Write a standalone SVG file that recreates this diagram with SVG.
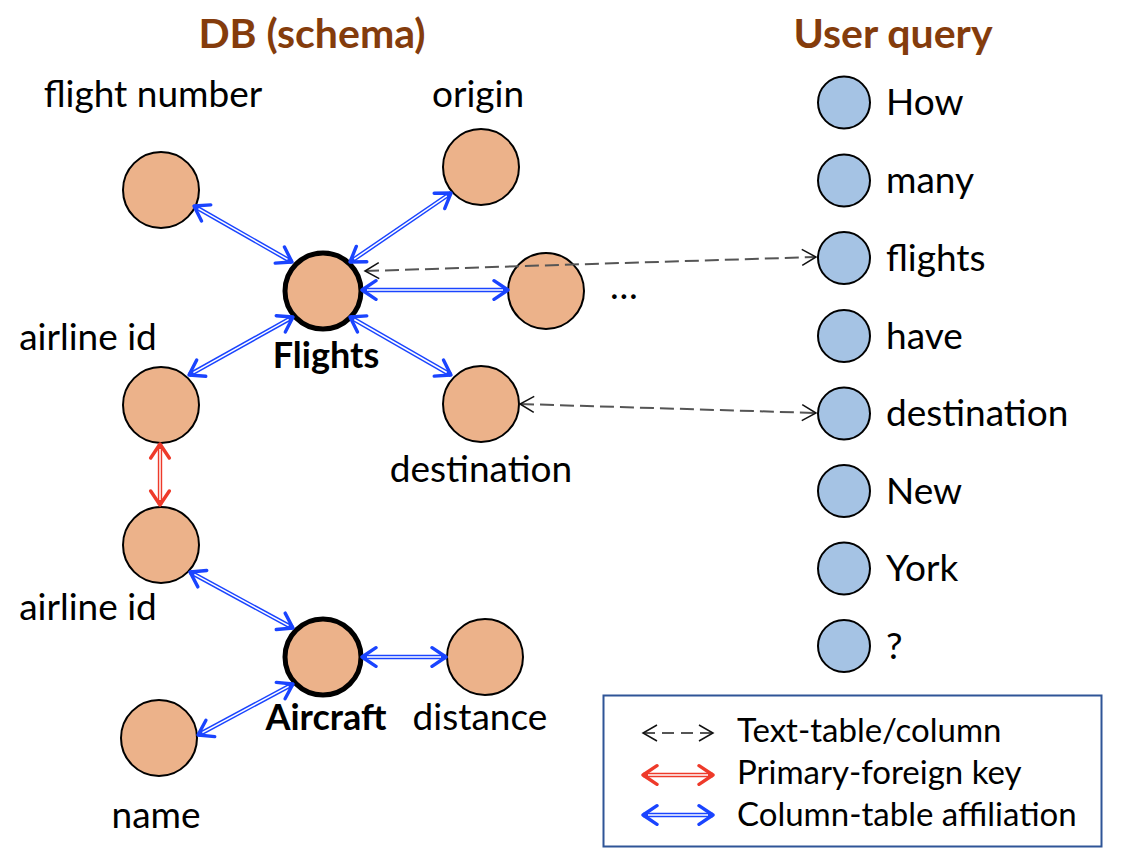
<svg xmlns="http://www.w3.org/2000/svg" width="1122" height="866" viewBox="0 0 1122 866">
<defs>
<style>
text{font-family:Lato,"Liberation Sans",sans-serif;fill:#000}
.t{font-size:37px}
.b{font-size:36px;font-weight:bold}
.title{font-size:41px;font-weight:bold;fill:#843C0C;text-anchor:middle}
.lg{font-size:33px}
.m{text-anchor:middle}
.col{fill:#ECB28A;stroke:#000;stroke-width:2}
.tab{fill:#ECB28A;stroke:#000;stroke-width:5}
.word{fill:#A5C3E4;stroke:#000;stroke-width:2}
.bo{stroke:#1A44FF;stroke-width:4.4;fill:none}
.ro{stroke:#EE3A2A;stroke-width:4.4;fill:none}
.in{stroke:#fff;stroke-width:1.5;fill:none}
.bh{stroke:none;fill:none;marker-start:url(#hb);marker-end:url(#hb)}
.rh{stroke:none;fill:none;marker-start:url(#hr);marker-end:url(#hr)}
.dash{stroke:#555;stroke-width:2;stroke-dasharray:14 6;fill:none;marker-start:url(#hd);marker-end:url(#hd)}
</style>
<marker id="hb" viewBox="-18 -12 20 24" markerWidth="20" markerHeight="24" refX="0" refY="0" markerUnits="userSpaceOnUse" orient="auto-start-reverse">
<path d="M-14,-9.3 L0,0 L-14,9.3" fill="none" stroke="#1A44FF" stroke-width="3.4" stroke-linecap="round" stroke-linejoin="round"/>
</marker>
<marker id="hr" viewBox="-18 -12 20 24" markerWidth="20" markerHeight="24" refX="0" refY="0" markerUnits="userSpaceOnUse" orient="auto-start-reverse">
<path d="M-14,-9.3 L0,0 L-14,9.3" fill="none" stroke="#EE3A2A" stroke-width="3.4" stroke-linecap="round" stroke-linejoin="round"/>
</marker>
<marker id="hd" viewBox="-16 -11 18 22" markerWidth="18" markerHeight="22" refX="0" refY="0" markerUnits="userSpaceOnUse" orient="auto-start-reverse">
<path d="M-14,-8 L0,0 L-14,8" fill="none" stroke="#111" stroke-width="1.5"/>
</marker>
</defs>
<rect width="1122" height="866" fill="#fff"/>

<text class="title" x="312" y="48">DB (schema)</text>
<text class="title" x="893" y="48">User query</text>

<g id="node-flight-number"><circle class="col" cx="161" cy="190" r="38"/><text class="t m" x="153" y="107">flight number</text></g>
<g id="node-origin"><circle class="col" cx="481" cy="167" r="38"/><text class="t m" x="478" y="107">origin</text></g>
<g id="node-flights"><circle class="tab" cx="323" cy="291" r="38"/><text class="b m" x="326" y="368">Flights</text></g>
<g id="node-more"><circle class="col" cx="546" cy="291" r="38"/><text class="t" x="610" y="299">…</text></g>
<g id="node-airline-id-1"><circle class="col" cx="161" cy="405" r="38"/><text class="t m" x="88" y="350">airline id</text></g>
<g id="node-destination"><circle class="col" cx="481" cy="404" r="38"/><text class="t m" x="481" y="482">destination</text></g>
<g id="node-airline-id-2"><circle class="col" cx="161" cy="545" r="38"/><text class="t m" x="88" y="620">airline id</text></g>
<g id="node-aircraft"><circle class="tab" cx="323" cy="657" r="38"/><text class="b m" x="326" y="730">Aircraft</text></g>
<g id="node-distance"><circle class="col" cx="485" cy="657" r="38"/><text class="t m" x="480" y="730">distance</text></g>
<g id="node-name"><circle class="col" cx="159" cy="738" r="38"/><text class="t m" x="156" y="828">name</text></g>

<g id="word-how"><circle class="word" cx="844" cy="102.5" r="26"/><text class="t" x="886" y="115">How</text></g>
<g id="word-many"><circle class="word" cx="844" cy="180.5" r="26"/><text class="t" x="886" y="193">many</text></g>
<g id="word-flights"><circle class="word" cx="844" cy="258" r="26"/><text class="t" x="886" y="271">flights</text></g>
<g id="word-have"><circle class="word" cx="844" cy="336" r="26"/><text class="t" x="886" y="349">have</text></g>
<g id="word-destination"><circle class="word" cx="844" cy="413.5" r="26"/><text class="t" x="886" y="426">destination</text></g>
<g id="word-new"><circle class="word" cx="844" cy="491" r="26"/><text class="t" x="886" y="504">New</text></g>
<g id="word-york"><circle class="word" cx="844" cy="568.5" r="26"/><text class="t" x="886" y="581">York</text></g>
<g id="word-q"><circle class="word" cx="844" cy="646" r="26"/><text class="t" x="886" y="659">?</text></g>

<g id="connectors">
<!-- flight number - Flights -->
<path class="bo" d="M194,206 L292,262"/><path class="in" d="M198.5,208.6 L287.5,259.4"/><path class="bh" d="M194,206 L292,262"/>
<!-- origin - Flights -->
<path class="bo" d="M451,193 L350,262"/><path class="in" d="M446.8,195.9 L354.2,259.1"/><path class="bh" d="M451,193 L350,262"/>
<!-- Flights - ... -->
<path class="bo" d="M362,290 L508,290"/><path class="in" d="M367,290 L503,290"/><path class="bh" d="M362,290 L508,290"/>
<!-- Flights - airline id -->
<path class="bo" d="M293,317 L189,375"/><path class="in" d="M288.6,319.4 L193.4,372.6"/><path class="bh" d="M293,317 L189,375"/>
<!-- Flights - destination -->
<path class="bo" d="M350,317 L451,375"/><path class="in" d="M354.3,319.5 L446.7,372.5"/><path class="bh" d="M350,317 L451,375"/>
<!-- airline id - airline id (PK-FK) -->
<path class="ro" d="M160,444 L160,505"/><path class="in" d="M160,449 L160,500"/><path class="rh" d="M160,444 L160,505"/>
<!-- airline id - Aircraft -->
<path class="bo" d="M190,572 L293,628"/><path class="in" d="M194.4,574.4 L288.6,625.6"/><path class="bh" d="M190,572 L293,628"/>
<!-- Aircraft - distance -->
<path class="bo" d="M362,657 L446,657"/><path class="in" d="M367,657 L441,657"/><path class="bh" d="M362,657 L446,657"/>
<!-- name - Aircraft -->
<path class="bo" d="M198,735 L293,684"/><path class="in" d="M202.4,732.6 L288.6,686.4"/><path class="bh" d="M198,735 L293,684"/>
<!-- text links -->
<path class="dash" d="M365,271 L816,257"/>
<path class="dash" d="M520,404 L816,413"/>
</g>

<g id="legend">
<rect x="603.5" y="695.5" width="498" height="151" fill="none" stroke="#2F5597" stroke-width="2"/>
<path class="dash" d="M643,733 L713,733" style="stroke-dasharray:12 7"/>
<path class="ro" d="M643,775 L713,775"/><path class="in" d="M648,775 L708,775"/><path class="rh" d="M643,775 L713,775"/>
<path class="bo" d="M643,815 L713,815"/><path class="in" d="M648,815 L708,815"/><path class="bh" d="M643,815 L713,815"/>
<text class="lg" x="737" y="742">Text-table/column</text>
<text class="lg" x="737" y="784">Primary-foreign key</text>
<text class="lg" x="737" y="826">Column-table affiliation</text>
</g>
</svg>
